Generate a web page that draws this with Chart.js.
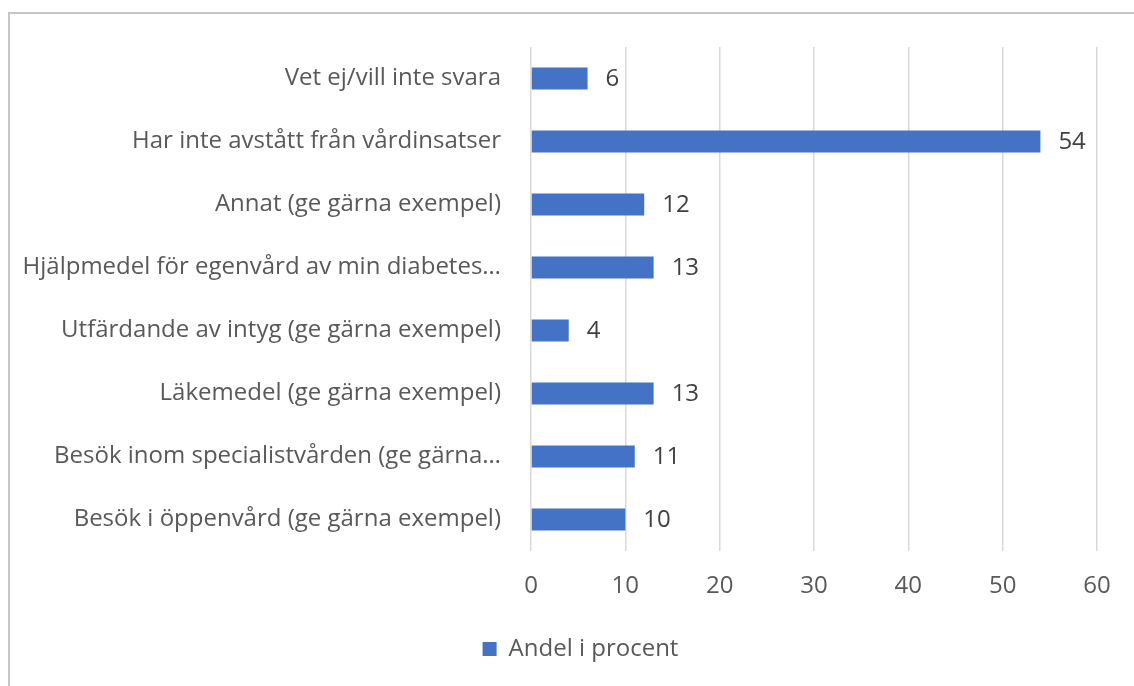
<!DOCTYPE html>
<html>
<head>
<meta charset="utf-8">
<script src="https://cdn.jsdelivr.net/npm/chart.js@4"></script>
<style>
  html, body { margin: 0; padding: 0; background: #fff; }
  #wrap { position: relative; width: 1134px; height: 686px; overflow: hidden; }
  #frame { position: absolute; left: 8px; top: 12px; width: 1200px; height: 760px;
           border: 2px solid #c6c6c6; box-sizing: border-box; }
  #chart { position: absolute; left: 0; top: 0; }
</style>
</head>
<body>
<div id="wrap">
  <div id="frame"></div>
  <canvas id="chart" width="1134" height="686"></canvas>
</div>
<script>
// Andel i procent per svarsalternativ (top to bottom as shown)
const categories = [
  "Vet ej/vill inte svara",
  "Har inte avstått från vårdinsatser",
  "Annat (ge gärna exempel)",
  "Hjälpmedel för egenvård av min diabetes…",
  "Utfärdande av intyg (ge gärna exempel)",
  "Läkemedel (ge gärna exempel)",
  "Besök inom specialistvården (ge gärna…",
  "Besök i öppenvård (ge gärna exempel)"
];
const values = [6, 54, 12, 13, 4, 13, 11, 10];
const seriesName = "Andel i procent";
const xTicks = [0, 10, 20, 30, 40, 50, 60];

const FONT = "'Open Sans', 'Noto Sans', sans-serif";
const SIZE = 24;
const TEXT = '#595959';
const BLUE = '#4472C4';

// value labels just after the end of each bar
const valueLabels = {
  id: 'valueLabels',
  afterDatasetsDraw: (chart) => {
    const ctx = chart.ctx;
    const meta = chart.getDatasetMeta(0);
    ctx.save();
    ctx.font = SIZE + 'px ' + FONT;
    ctx.fillStyle = '#404040';
    ctx.textAlign = 'left';
    ctx.textBaseline = 'middle';
    meta.data.forEach((bar, i) => {
      ctx.fillText(String(values[i]), bar.x + 18, bar.y + 1);
    });
    ctx.restore();
  }
};

// legend sits a bit right of the canvas centre in the original
const legendShift = {
  id: 'legendShift',
  afterLayout: (chart) => {
    chart.legend.left += 27;
    chart.legend.right += 27;
  }
};

new Chart(document.getElementById('chart'), {
  type: 'bar',
  data: {
    labels: categories,
    datasets: [{
      label: seriesName,
      data: values,
      backgroundColor: BLUE,
      borderWidth: 0,
      barPercentage: 0.35,
      categoryPercentage: 1
    }]
  },
  options: {
    indexAxis: 'y',
    responsive: false,
    animation: false,
    layout: { padding: { top: 47, left: 10, right: 37, bottom: 15 } },
    plugins: {
      legend: {
        position: 'bottom',
        labels: {
          color: TEXT,
          font: { size: SIZE, family: FONT },
          boxWidth: 14,
          boxHeight: 14,
          padding: 26
        }
      },
      tooltip: { enabled: false }
    },
    scales: {
      x: {
        min: 0,
        max: 60,
        afterBuildTicks: (scale) => { scale.ticks = xTicks.map(v => ({ value: v })); },
        afterFit: (scale) => { scale.height = 60; },
        grid: { color: '#d9d9d9', lineWidth: 1.5, drawTicks: false },
        border: { display: false },
        ticks: { color: TEXT, font: { size: SIZE, family: FONT }, padding: 21 }
      },
      y: {
        afterFit: (scale) => { scale.width = 531 - 10; },
        grid: { display: false, drawTicks: false },
        border: { display: false },
        ticks: { color: TEXT, font: { size: SIZE, family: FONT }, padding: 30 }
      }
    }
  },
  plugins: [valueLabels, legendShift]
});
</script>
</body>
</html>
